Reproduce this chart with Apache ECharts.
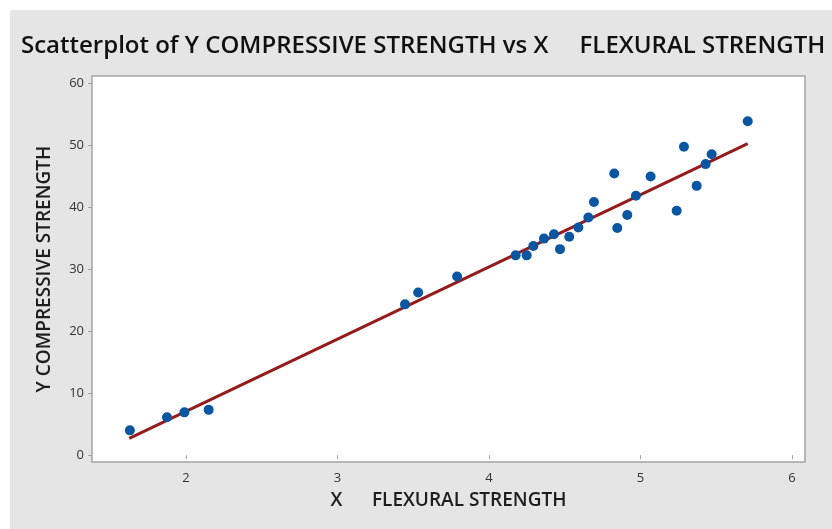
<!DOCTYPE html>
<html>
<head>
<meta charset="utf-8">
<script src="https://cdn.jsdelivr.net/npm/echarts@6/dist/echarts.min.js"></script>
<style>
html,body{margin:0;padding:0;background:#ffffff;}
#chart{width:832px;height:529px;}
</style>
</head>
<body>
<div id="chart"></div>
<script>
var titleText = 'Scatterplot of Y COMPRESSIVE STRENGTH vs X     FLEXURAL STRENGTH';
var xAxisName = 'X      FLEXURAL STRENGTH';
var yAxisName = 'Y COMPRESSIVE STRENGTH';

var flexural = [1.63, 1.875, 1.99, 2.15, 3.446, 3.533, 3.79, 4.176, 4.249, 4.293, 4.363, 4.429, 4.469, 4.53, 4.59, 4.656, 4.693, 4.827, 4.847, 4.913, 4.97, 5.067, 5.239, 5.287, 5.371, 5.43, 5.47, 5.708];
var compressive = [4.0, 6.1, 6.9, 7.3, 24.3, 26.2, 28.8, 32.2, 32.2, 33.7, 34.9, 35.6, 33.2, 35.2, 36.7, 38.3, 40.8, 45.4, 36.6, 38.7, 41.8, 44.9, 39.4, 49.7, 43.4, 46.9, 48.5, 53.8];

var fitX = [1.626, 5.708];
var fitY = [2.7, 50.2];

var xTicks = [2, 3, 4, 5, 6];
var yTicks = [0, 10, 20, 30, 40, 50, 60];

var points = flexural.map(function (x, i) { return [x, compressive[i]]; });
var fitPts = fitX.map(function (x, i) { return [x, fitY[i]]; });

var chart = echarts.init(document.getElementById('chart'), null, {renderer: 'canvas'});
var FONT = '"Open Sans", "Noto Sans", sans-serif';
chart.setOption({
  animation: false,
  backgroundColor: '#ffffff',
  graphic: [{
    type: 'rect', z: -10, silent: true,
    shape: {x: 10, y: 10, width: 822, height: 519},
    style: {fill: '#e5e5e5'}
  }],
  title: {
    text: titleText,
    left: 16, top: 29,
    textStyle: {fontFamily: FONT, fontSize: 24, fontWeight: 600, color: '#111111'}
  },
  grid: {
    left: 92, top: 76, right: 27, bottom: 67,
    show: true, backgroundColor: '#ffffff', borderColor: '#a4a4a4', borderWidth: 1.5
  },
  xAxis: {
    type: 'value', min: 1.38, max: 6.086,
    name: xAxisName, nameLocation: 'middle', nameGap: 29,
    nameTextStyle: {fontFamily: FONT, fontSize: 19, fontWeight: 600, color: '#1e1e1e'},
    axisLine: {show: false},
    axisTick: {show: true, length: 4, lineStyle: {color: '#a4a4a4'},
      customValues: xTicks},
    axisLabel: {fontFamily: FONT, fontSize: 13, color: '#333333', margin: 10,
      customValues: xTicks, formatter: function (v) { return String(v); }},
    splitLine: {show: false}
  },
  yAxis: {
    type: 'value', min: -1.1, max: 61.1,
    name: yAxisName, nameLocation: 'middle', nameGap: 38,
    nameTextStyle: {fontFamily: FONT, fontSize: 19, fontWeight: 600, color: '#1e1e1e'},
    axisLine: {show: false},
    axisTick: {show: true, length: 4, lineStyle: {color: '#a4a4a4'},
      customValues: yTicks},
    axisLabel: {fontFamily: FONT, fontSize: 13, color: '#333333', margin: 8,
      customValues: yTicks, formatter: function (v) { return String(v); }},
    splitLine: {show: false}
  },
  series: [{
    type: 'line', data: fitPts, showSymbol: false, symbol: 'none',
    lineStyle: {color: '#951c1c', width: 3}, z: 2, silent: true
  }, {
    type: 'scatter', data: points, symbol: 'circle', symbolSize: 10,
    itemStyle: {color: '#0b56a3', opacity: 1}, z: 3
  }]
});
</script>
</body>
</html>
